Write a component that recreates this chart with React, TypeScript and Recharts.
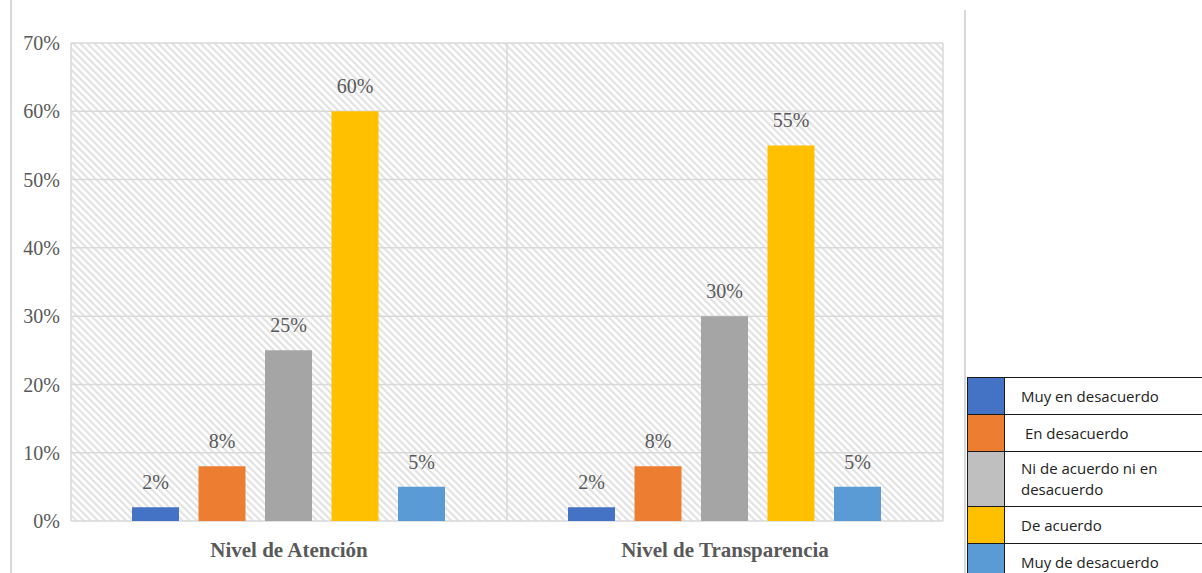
import React from "react";
import {
  Bar,
  BarChart,
  CartesianGrid,
  LabelList,
  XAxis,
  YAxis,
} from "recharts";

const categories = ["Nivel de Atención", "Nivel de Transparencia"];
const seriesNames = [
  "Muy en desacuerdo",
  "En desacuerdo",
  "Ni de acuerdo ni en desacuerdo",
  "De acuerdo",
  "Muy de desacuerdo",
];
const seriesKeys = ["s1", "s2", "s3", "s4", "s5"];
const muyEnDesacuerdo = [2, 2];
const enDesacuerdo = [8, 8];
const niNi = [25, 30];
const deAcuerdo = [60, 55];
const muyDeDesacuerdo = [5, 5];
const yTicks = [0, 10, 20, 30, 40, 50, 60, 70];

const barColors = ["#4472C4", "#ED7D31", "#A5A5A5", "#FFC000", "#5B9BD5"];
const legendColors = ["#4472C4", "#ED7D31", "#BFBFBF", "#FFC000", "#5B9BD5"];
const legendRowHeights = [37, 37, 55, 37, 37];

const data = categories.map((name, i) => ({
  name,
  s1: muyEnDesacuerdo[i],
  s2: enDesacuerdo[i],
  s3: niNi[i],
  s4: deAcuerdo[i],
  s5: muyDeDesacuerdo[i],
}));

const serif = "'Liberation Serif', 'Times New Roman', serif";

function LegendTable() {
  return (
    <table
      style={{
        position: "absolute",
        left: 967,
        top: 377,
        width: 250,
        borderCollapse: "collapse",
        fontFamily: "'Open Sans', 'Noto Sans', sans-serif",
        fontSize: 15,
        color: "#222",
        background: "#fff",
      }}
    >
      <tbody>
        {seriesNames.map((name, i) => (
          <tr key={name} style={{ height: legendRowHeights[i] }}>
            <td
              style={{
                width: 36,
                padding: 0,
                background: legendColors[i],
                border: "1.5px solid #1a1a1a",
              }}
            />
            <td
              style={{
                border: "1.5px solid #1a1a1a",
                padding: "0 30px 0 16px",
                lineHeight: "21px",
              }}
            >
              {i === 1 ? "\u00a0" + name : name}
            </td>
          </tr>
        ))}
      </tbody>
    </table>
  );
}

export default function App() {
  return (
    <div
      style={{
        position: "absolute",
        left: 0,
        top: 0,
        width: 1202,
        height: 573,
        overflow: "hidden",
        background: "#fff",
      }}
    >
      <div
        style={{
          position: "absolute",
          left: 10,
          top: 0,
          width: 2,
          height: 573,
          background: "#d9d9d9",
        }}
      />
      <div
        style={{
          position: "absolute",
          left: 964,
          top: 10,
          width: 2,
          height: 563,
          background: "#d9d9d9",
        }}
      />
      <BarChart
        width={1202}
        height={573}
        data={data}
        margin={{ top: 43, right: 259, left: 11, bottom: 22 }}
        barCategoryGap={61}
        barGap={19.5}
      >
        <defs>
          <pattern
            id="hatch"
            patternUnits="userSpaceOnUse"
            width={5}
            height={5}
            patternTransform="rotate(-45)"
          >
            <rect x={0} y={0} width={5} height={5} fill="#ffffff" />
            <rect x={0} y={0} width={2.2} height={5} fill="#e2e2e2" />
          </pattern>
        </defs>
        <CartesianGrid
          fill="url(#hatch)"
          fillOpacity={1}
          stroke="#d9d9d9"
          strokeWidth={1.5}
          verticalCoordinatesGenerator={({ offset }: any) => [
            offset.left,
            offset.left + offset.width / 2,
            offset.left + offset.width,
          ]}
        />
        <XAxis
          dataKey="name"
          height={30}
          axisLine={false}
          tickLine={false}
          tickMargin={15}
          tick={{
            fill: "#595959",
            fontFamily: serif,
            fontSize: 21,
            fontWeight: "bold",
          }}
        />
        <YAxis
          domain={[0, 70]}
          ticks={yTicks}
          width={60}
          axisLine={false}
          tickLine={false}
          tickMargin={5}
          tickFormatter={(v: number) => `${v}%`}
          tick={{ fill: "#595959", fontFamily: serif, fontSize: 20 }}
        />
        {seriesKeys.map((key, i) => (
          <Bar
            key={key}
            dataKey={key}
            name={seriesNames[i]}
            fill={barColors[i]}
            isAnimationActive={false}
          >
            <LabelList
              dataKey={key}
              position="top"
              offset={18}
              formatter={(v: any) => `${v}%`}
              style={{ fill: "#595959", fontFamily: serif, fontSize: 20 }}
            />
          </Bar>
        ))}
      </BarChart>
      <LegendTable />
    </div>
  );
}
